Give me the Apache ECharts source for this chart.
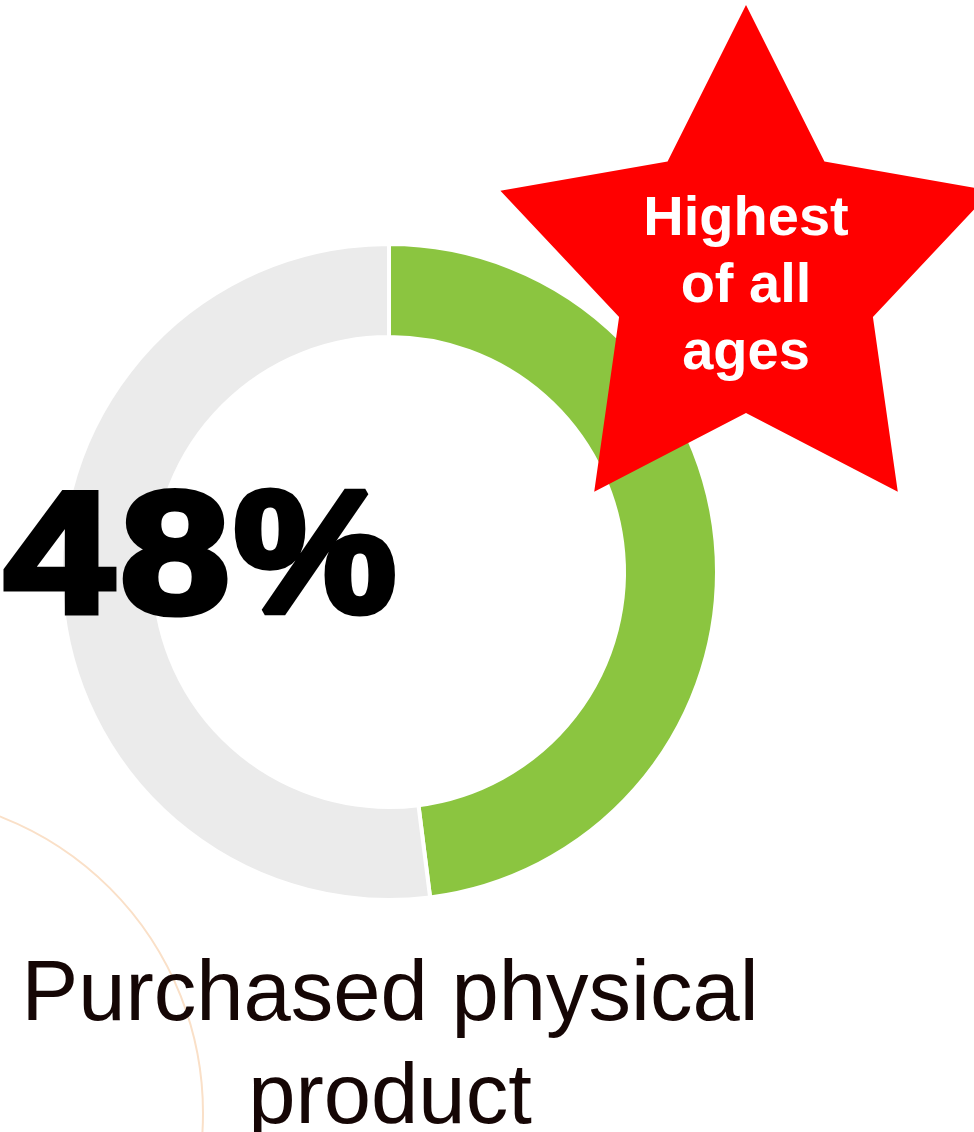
<!DOCTYPE html>
<html>
<head>
<meta charset="utf-8">
<script src="https://cdn.jsdelivr.net/npm/echarts@6/dist/echarts.min.js"></script>
<style>
  html, body { margin: 0; padding: 0; background: #ffffff; }
  #chart { width: 974px; height: 1132px; }
</style>
</head>
<body>
<div id="chart"></div>
<script>
// Share of respondents who purchased a physical product
const categories = ['Purchased physical product', 'Did not purchase'];
const values = [48, 52];
const sliceColors = ['#8BC540', '#EBEBEB'];
const captionLines = ['Purchased physical', 'product'];
const badgeLines = ['Highest', 'of all', 'ages'];

// Five-pointed badge outline, built around a centre point
function starPoints(cx, cy, outerR, innerR, sx) {
  const pts = [];
  for (let i = 0; i < 10; i++) {
    const ang = (90 + i * 36) * Math.PI / 180;
    const r = i % 2 === 0 ? outerR : innerR;
    pts.push([cx + r * Math.cos(ang) * sx, cy - r * Math.sin(ang)]);
  }
  return pts;
}

// Heavy headline figure: each glyph is laid out on its own so the
// strokes can be widened like a black display face.
function headlineGlyphs(text, left, baselineMid) {
  const out = [];
  let x0 = left;
  for (const ch of text) {
    const isDigit = /[0-9]/.test(ch);
    const w = isDigit ? 110 : 158;
    out.push({
      type: 'text',
      z: 10,
      silent: true,
      x: x0 + w / 2,
      y: baselineMid,
      scaleX: isDigit ? 1.14 : 1.06,
      style: {
        text: ch,
        font: 'bold 172px "Liberation Sans", Arial, sans-serif',
        fill: '#000000',
        stroke: '#000000',
        lineWidth: 7,
        lineJoin: 'round',
        align: 'center',
        verticalAlign: 'middle',
        textAlign: 'center',
        textVerticalAlign: 'middle'
      }
    });
    x0 += w + 6;
  }
  return out;
}

const chart = echarts.init(document.getElementById('chart'), null, { renderer: 'canvas' });

const pieData = categories.map((name, i) => ({
  name: name,
  value: values[i],
  itemStyle: { color: sliceColors[i] }
}));

chart.setOption({
  animation: false,
  backgroundColor: '#ffffff',
  series: [{
    type: 'pie',
    center: [389, 572],
    radius: [235, 328],
    startAngle: 90,
    clockwise: true,
    silent: true,
    label: { show: false },
    labelLine: { show: false },
    itemStyle: { borderColor: '#ffffff', borderWidth: 4 },
    data: pieData,
    z: 2
  }],
  graphic: [
    {
      // thin decorative ring in the lower-left corner
      type: 'circle',
      z: 1,
      silent: true,
      shape: { cx: -115, cy: 1113, r: 318 },
      style: { fill: 'none', stroke: '#FAE0C8', lineWidth: 2 }
    },
    ...headlineGlyphs(values[0] + '%', 4, 565),
    {
      type: 'polygon',
      z: 20,
      silent: true,
      shape: { points: starPoints(746, 274, 269, 139, 0.96) },
      style: { fill: '#FF0000' }
    },
    {
      type: 'text',
      z: 21,
      silent: true,
      x: 746,
      y: 287,
      style: {
        text: badgeLines.join('\n'),
        font: 'bold 56px "Liberation Sans", Arial, sans-serif',
        lineHeight: 67,
        fill: '#ffffff',
        align: 'center',
        verticalAlign: 'middle',
        textAlign: 'center',
        textVerticalAlign: 'middle'
      }
    },
    {
      type: 'text',
      z: 10,
      silent: true,
      x: 390,
      y: 1048,
      style: {
        text: captionLines.join('\n'),
        font: '85px "Liberation Sans", Arial, sans-serif',
        lineHeight: 103,
        fill: '#150605',
        align: 'center',
        verticalAlign: 'middle',
        textAlign: 'center',
        textVerticalAlign: 'middle'
      }
    }
  ]
});
</script>
</body>
</html>
